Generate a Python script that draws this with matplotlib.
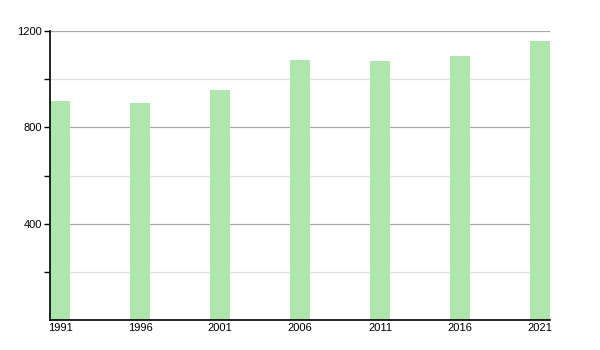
import matplotlib
matplotlib.use('Agg')
import matplotlib.pyplot as plt

# Data
years = [1991, 1996, 2001, 2006, 2011, 2016, 2021]
population = [908, 901, 955, 1080, 1074, 1096, 1158]

bar_color = '#aee6ae'

plt.rcParams['font.family'] = ['Liberation Sans', 'DejaVu Sans']

fig = plt.figure(figsize=(6, 3.5), dpi=100)
ax = fig.add_axes([50 / 600, 30 / 350, 500 / 600, 289 / 350])

ax.bar(years, population, width=1.25, color=bar_color, zorder=2)

ax.set_xlim(1991 - 0.625, 2021 + 0.625)
ax.set_ylim(0, 1200)

# grid: major lines darker, minor lines lighter
ax.set_yticks([400, 800, 1200])
ax.set_yticks([200, 600, 1000], minor=True)
ax.grid(axis='y', which='major', color='#a8a8a8', linewidth=0.9, zorder=0)
ax.grid(axis='y', which='minor', color='#e0e0e0', linewidth=0.9, zorder=0)
ax.set_axisbelow(True)

ax.set_xticks(years)
ax.set_xticklabels([str(y) for y in years])
ax.tick_params(axis='x', length=0, pad=2, labelsize=8)
ax.tick_params(axis='y', which='major', length=4, width=1, labelsize=8, pad=2)
ax.tick_params(axis='y', which='minor', length=4, width=1)

for s in ['top', 'right']:
    ax.spines[s].set_visible(False)
for s in ['left', 'bottom']:
    ax.spines[s].set_linewidth(1.2)
    ax.spines[s].set_color('black')

fig.savefig('out.png', dpi=100, facecolor='white')
